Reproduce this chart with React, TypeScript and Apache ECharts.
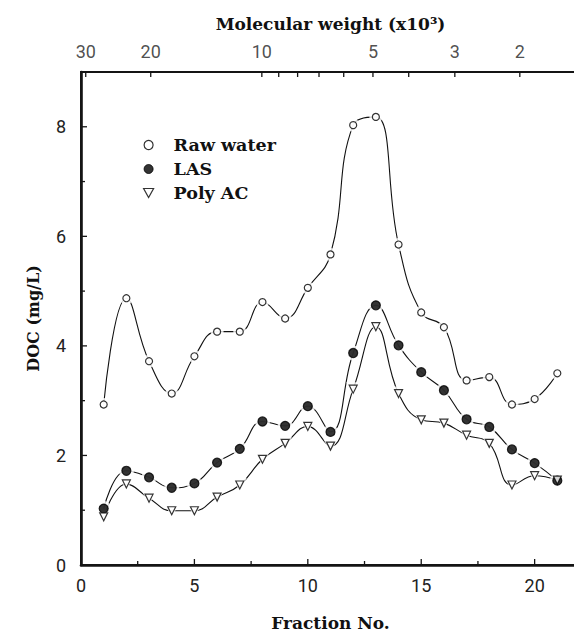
import { useEffect, useRef } from 'react';
import * as echarts from 'echarts';

const fractions = [1, 2, 3, 4, 5, 6, 7, 8, 9, 10, 11, 12, 13, 14, 15, 16, 17, 18, 19, 20, 21];
const rawWater = [2.93, 4.87, 3.72, 3.13, 3.81, 4.26, 4.26, 4.8, 4.5, 5.06, 5.67, 8.03, 8.18, 5.85, 4.61, 4.34, 3.37, 3.43, 2.93, 3.03, 3.5];
const las = [1.03, 1.72, 1.6, 1.41, 1.49, 1.87, 2.12, 2.62, 2.54, 2.9, 2.43, 3.87, 4.74, 4.01, 3.52, 3.19, 2.66, 2.52, 2.11, 1.86, 1.54];
const polyAC = [0.88, 1.48, 1.22, 0.99, 0.99, 1.24, 1.46, 1.93, 2.22, 2.53, 2.17, 3.21, 4.35, 3.13, 2.65, 2.59, 2.37, 2.22, 1.46, 1.63, 1.55];

const X_MIN = 0;
const X_MAX = 22;
const Y_MIN = 0;
const Y_MAX = 9;
const xMajorTicks = [5, 10, 15, 20];
const xMinorTicks = [2.5, 7.5, 12.5, 17.5];
const yMajorTicks = [2, 4, 6, 8];
const yMinorTicks = [1, 3, 5, 7];
const mwLabels = [30, 20, 10, 5, 3, 2];
const mwTicks = [30, 20, 10, 9, 8, 7, 6, 5, 4, 3, 2];
const MW_LEFT = 30.9;
const MW_RIGHT = 1.374;

const SERIF = 'DejaVu Serif';
const SANS = 'Roboto';
const INK = '#141414';
const TRI_DOWN = 'path://M0,0 L10,0 L5,9 Z';
const GRID = { left: 81, right: 2, top: 72, bottom: 72 };

const toMw = (m: number) => -Math.log10(m);

export default function App() {
  const fgRef = useRef<HTMLDivElement>(null);
  const frRef = useRef<HTMLDivElement>(null);
  useEffect(() => {
    if (!fgRef.current || !frRef.current) return;

    // ---------- data chart ----------
    const chart = echarts.init(fgRef.current, null, { renderer: 'svg' });
    const pairs = (vals: number[]) => fractions.map((f, i) => [f, vals[i]]);
    const sets = [
      { name: 'Raw water', vals: rawWater, symbol: 'circle', size: 7, rotate: 0, fill: '#fff' },
      { name: 'LAS', vals: las, symbol: 'circle', size: 9, rotate: 0, fill: '#000' },
      { name: 'Poly AC', vals: polyAC, symbol: 'triangle', size: 8, rotate: 180, fill: '#fff' },
    ];
    const tickLabel = { fontFamily: SANS, fontSize: 18, color: '#222' };
    const titleText = { fontFamily: SERIF, fontSize: 17, fontWeight: 'bold', color: '#111' };

    const series: any[] = [];
    sets.forEach((s) => {
      series.push({
        type: 'line',
        data: pairs(s.vals),
        smooth: 0.45,
        showSymbol: false,
        lineStyle: { color: '#111', width: 1.1 },
        z: 2,
      });
      series.push({
        type: 'scatter',
        data: pairs(s.vals),
        symbol: s.symbol,
        symbolRotate: s.rotate,
        symbolSize: s.size + 6,
        itemStyle: { color: '#fff' },
        z: 3,
      });
      series.push({
        type: 'scatter',
        name: s.name,
        data: pairs(s.vals),
        symbol: s.symbol,
        symbolRotate: s.rotate,
        symbolSize: s.size,
        itemStyle: { color: s.fill, borderColor: '#000', borderWidth: 1.2 },
        z: 4,
      });
    });
    series.push({
      type: 'scatter',
      xAxisIndex: 1,
      yAxisIndex: 0,
      data: mwLabels.map((m) => ({ name: String(m), value: [toMw(m), Y_MAX] })),
      symbolSize: 0,
      clip: false,
      label: { show: true, position: 'top', distance: 12, formatter: '{b}', ...tickLabel },
      itemStyle: { color: 'transparent' },
      z: 5,
    });

    try {
      chart.setOption({
        animation: false,
        backgroundColor: 'transparent',
        grid: GRID,
        legend: {
          orient: 'vertical',
          left: 138,
          top: 131,
          itemWidth: 40,
          itemHeight: 9,
          itemGap: 6,
          textStyle: { fontFamily: SERIF, fontSize: 17.5, fontWeight: 'bold', color: '#111', lineHeight: 18 },
          data: [
            { name: 'Raw water', icon: 'circle', itemStyle: { color: '#fff', borderColor: '#000', borderWidth: 1.2 } },
            { name: 'LAS', icon: 'circle', itemStyle: { color: '#000', borderColor: '#000', borderWidth: 1 } },
            { name: 'Poly AC', icon: TRI_DOWN, itemStyle: { color: '#fff', borderColor: '#000', borderWidth: 1.2 } },
          ],
        },
        xAxis: [
          {
            type: 'value',
            position: 'bottom',
            min: X_MIN,
            max: X_MAX,
            interval: 5,
            splitLine: { show: false },
            axisLine: { show: false },
            axisTick: { show: false },
            axisLabel: { showMaxLabel: false, margin: 11, ...tickLabel },
            name: 'Fraction No.',
            nameLocation: 'middle',
            nameGap: 49,
            nameTextStyle: titleText,
          },
          {
            type: 'value',
            position: 'top',
            min: toMw(MW_LEFT),
            max: toMw(MW_RIGHT),
            splitLine: { show: false },
            axisLine: { show: false },
            axisTick: { show: false },
            axisLabel: { show: false },
            name: 'Molecular weight (x10³)',
            nameLocation: 'middle',
            nameGap: 40,
            nameTextStyle: titleText,
          },
        ],
        yAxis: [
          {
            type: 'value',
            position: 'left',
            min: Y_MIN,
            max: Y_MAX,
            interval: 2,
            splitLine: { show: false },
            axisLine: { show: false },
            axisTick: { show: false },
            axisLabel: { showMaxLabel: false, margin: 15, ...tickLabel },
            name: 'DOC (mg/L)',
            nameLocation: 'middle',
            nameGap: 40,
            nameTextStyle: { ...titleText, fontSize: 16 },
          },
        ],
        series,
      });
    } catch (e) {
      // keep going so that the frame chart is still drawn
    }

    const mwPx: number[] = [];
    mwTicks.forEach((m) => {
      try {
        const v = chart.convertToPixel({ xAxisIndex: 1 }, toMw(m)) as any;
        if (typeof v === 'number' && isFinite(v)) mwPx.push(v);
      } catch (e) {
        /* ignore */
      }
    });

    // ---------- frame chart (axes box and inward ticks), laid over the data chart ----------
    const frame = echarts.init(frRef.current, null, { renderer: 'svg' });
    frame.setOption({
      animation: false,
      backgroundColor: 'transparent',
      grid: { ...GRID, show: true, borderColor: INK, borderWidth: 2 },
      xAxis: {
        type: 'value',
        min: X_MIN,
        max: X_MAX,
        interval: 5,
        splitLine: { show: false },
        axisLine: { show: true, lineStyle: { color: INK, width: 2.6 } },
        axisTick: { show: false },
        axisLabel: { show: false },
      },
      yAxis: {
        type: 'value',
        min: Y_MIN,
        max: Y_MAX,
        interval: 1,
        splitLine: { show: false },
        axisLine: { show: true, lineStyle: { color: INK, width: 2.6 } },
        axisTick: { show: false },
        axisLabel: { show: false },
      },
      series: [],
    });
    const px = (x: number, y: number) => frame.convertToPixel({ xAxisIndex: 0, yAxisIndex: 0 }, [x, y]) as number[];
    const [left, bottom] = px(X_MIN, Y_MIN);
    const top = px(X_MIN, Y_MAX)[1];
    const line = (x1: number, y1: number, x2: number, y2: number, w: number) => ({
      type: 'line',
      silent: true,
      shape: { x1, y1, x2, y2 },
      style: { stroke: INK, lineWidth: w },
    });
    const g: any[] = [];
    xMajorTicks.forEach((v) => {
      const x = px(v, Y_MIN)[0];
      g.push(line(x, bottom, x, bottom - 6, 1.3));
    });
    xMinorTicks.forEach((v) => {
      const x = px(v, Y_MIN)[0];
      g.push(line(x, bottom, x, bottom - 4, 1.3));
    });
    yMajorTicks.forEach((v) => {
      const y = px(X_MIN, v)[1];
      g.push(line(left, y, left + 6, y, 1.3));
    });
    yMinorTicks.forEach((v) => {
      const y = px(X_MIN, v)[1];
      g.push(line(left, y, left + 4, y, 1.3));
    });
    mwPx.forEach((x) => g.push(line(x, top, x, top + 5, 1.3)));
    frame.setOption({ graphic: g });

    return () => {
      frame.dispose();
      chart.dispose();
    };
  }, []);
  return (
    <div style={{ position: 'relative', width: 582, height: 637, margin: -8 }}>
      <div ref={fgRef} style={{ position: 'absolute', left: 0, top: 0, width: 582, height: 637 }} />
      <div ref={frRef} style={{ position: 'absolute', left: 0, top: 0, width: 582, height: 637, pointerEvents: 'none' }} />
    </div>
  );
}
